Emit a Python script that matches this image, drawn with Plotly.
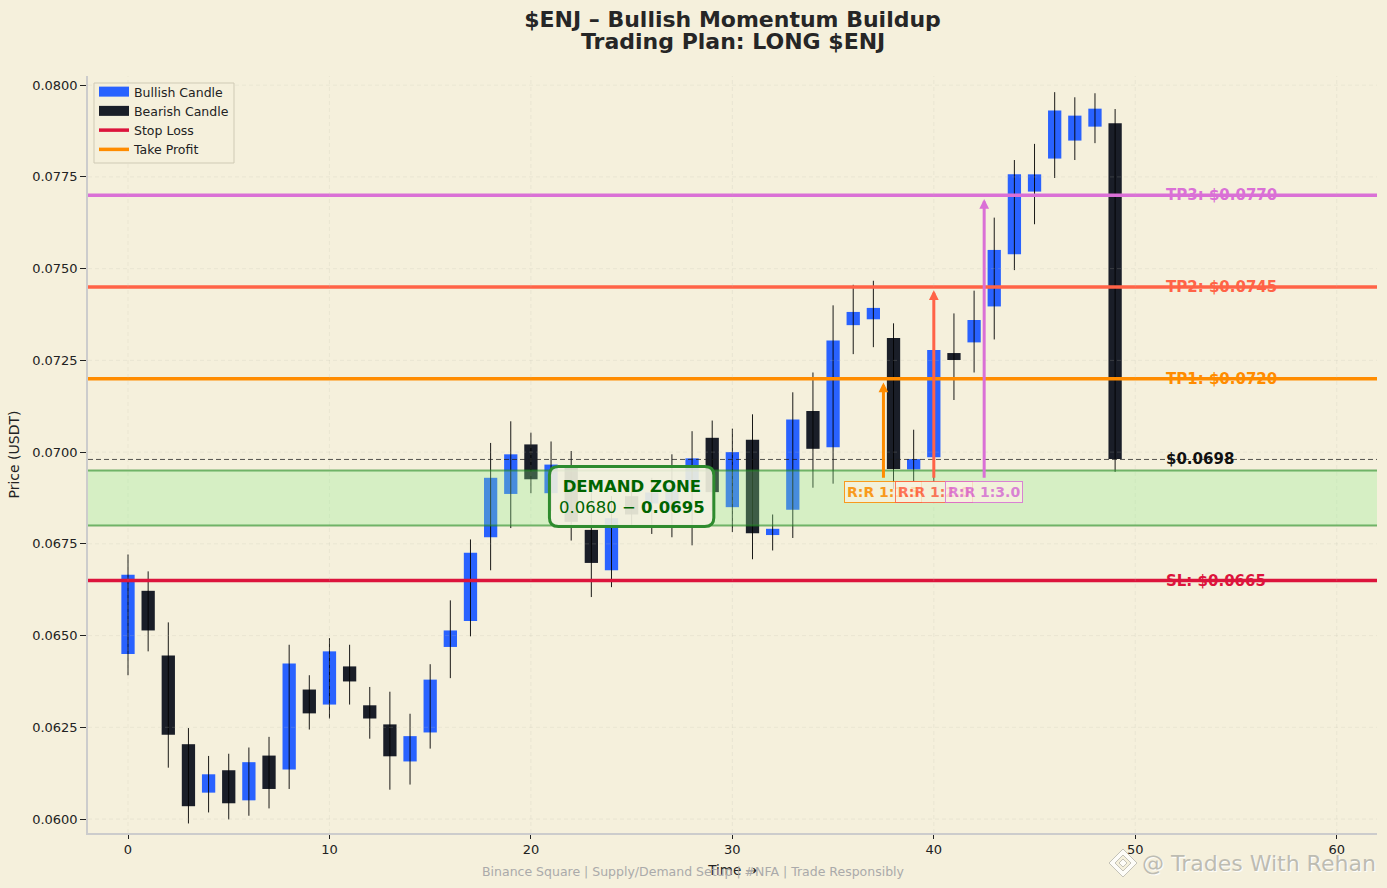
import plotly.graph_objects as go

opens = [.0645,.06622,.06446,.06204,.06072,.06133,.06051,.06173,.06135,.06353,.06312,.06416,.0631,.06258,.06157,.06236,.06469,.0654,.06768,.06886,
         .07021,.06888,.06964,.06788,.06678,.0688,.0686,.0684,.0690,.07039,.0685,.07034,.06774,.06843,.07112,.07013,.07346,.07362,.07311,.06953,
         .06986,.0727,.07299,.07397,.07539,.0771,.078,.07849,.07887,.07896]
closes = [.06666,.06514,.0623,.06035,.06122,.06043,.06155,.06082,.06424,.06288,.06457,.06375,.06274,.06171,.06226,.0638,.06514,.06726,.0693,.06994,
          .06926,.06966,.0681,.06698,.0682,.0683,.0689,.0691,.06983,.06891,.07,.06779,.06791,.07089,.07009,.07304,.07382,.07393,.06954,.06981,
          .07278,.07251,.0736,.07551,.07757,.07757,.07931,.07917,.07936,.06981]
highs = [.06721,.06675,.06536,.06248,.06172,.06178,.06195,.06224,.06475,.06392,.06493,.06475,.0636,.06347,.06287,.06422,.06596,.06762,.07025,.07084,
         .07053,.07029,.07003,.0690,.0688,.0692,.0693,.06994,.07057,.07086,.07064,.07103,.0683,.07163,.07217,.074,.07456,.07467,.07351,.07061,
         .0735,.07378,.0744,.07639,.07796,.0784,.07981,.07967,.07978,.07935]
lows = [.06392,.06457,.0614,.05988,.06018,.05999,.06009,.06029,.06082,.06244,.06274,.06312,.06219,.0608,.06094,.06192,.06384,.06498,.06678,.06793,
        .06888,.0684,.06759,.06605,.06632,.0680,.06777,.06768,.06746,.0684,.06782,.06708,.06732,.06766,.06903,.06914,.07267,.07286,.0690,.0692,
        .0692,.07142,.07217,.07307,.07496,.07621,.07747,.07796,.07842,.06946]

y_ticks = [.06,.0625,.065,.0675,.07,.0725,.075,.0775,.08]
x_ticks = [0,10,20,30,40,50,60]
SL, TP1, TP2, TP3, LAST = .0665, .072, .0745, .077, .0698
ZONE_LOW, ZONE_HIGH = .0680, .0695
X0, X1 = -1.986, 62.0
Y0, Y1 = .05962, .08025
BG = "#F5F0DC"
BLUE, DARK = "#2962FF", "#1A1E28"
CRIMSON, TOMATO, ORANGE, ORCHID = "#DC143C", "#FF6347", "#FF8C00", "#DA70D6"
FONT = "DejaVu Sans"

idx = list(range(len(opens)))
fig = go.Figure()
fig.add_trace(go.Bar(x=idx, y=[abs(c-o) for o, c in zip(opens, closes)], base=[min(o, c) for o, c in zip(opens, closes)],
                     width=0.66, marker=dict(color=[BLUE if c >= o else DARK for o, c in zip(opens, closes)], line_width=0),
                     showlegend=False, hoverinfo="skip"))
wx, wy = [], []
for i, h, l in zip(idx, highs, lows):
    wx += [i, i, None]
    wy += [l, h, None]
fig.add_trace(go.Scatter(x=wx, y=wy, mode="lines", line=dict(color="#000000", width=0.9), showlegend=False, hoverinfo="skip"))

fig.add_trace(go.Scatter(x=[None], y=[None], mode="lines", name="Bullish Candle", line=dict(color=BLUE, width=10)))
fig.add_trace(go.Scatter(x=[None], y=[None], mode="lines", name="Bearish Candle", line=dict(color=DARK, width=10)))
fig.add_trace(go.Scatter(x=[X0, X1], y=[SL, SL], mode="lines", name="Stop Loss", line=dict(color=CRIMSON, width=3.5)))
fig.add_trace(go.Scatter(x=[X0, X1], y=[TP1, TP1], mode="lines", name="Take Profit", line=dict(color=ORANGE, width=3.5)))
fig.add_trace(go.Scatter(x=[X0, X1], y=[TP2, TP2], mode="lines", showlegend=False, line=dict(color=TOMATO, width=3.5)))
fig.add_trace(go.Scatter(x=[X0, X1], y=[TP3, TP3], mode="lines", showlegend=False, line=dict(color=ORCHID, width=3.5)))

GRID = dict(color="rgba(190,190,175,0.2)", width=1, dash="4px,3px")
shapes = []
for t in y_ticks:
    shapes.append(dict(type="line", xref="x", yref="y", x0=X0, x1=X1, y0=t, y1=t, layer="above", line=GRID))
for t in x_ticks:
    shapes.append(dict(type="line", xref="x", yref="y", x0=t, x1=t, y0=Y0, y1=Y1, layer="above", line=GRID))
shapes.append(dict(type="rect", xref="x", yref="y", x0=X0, x1=X1, y0=ZONE_LOW, y1=ZONE_HIGH, layer="above",
                   fillcolor="rgba(144,238,144,0.30)", line_width=0))
for v in (ZONE_LOW, ZONE_HIGH):
    shapes.append(dict(type="line", xref="x", yref="y", x0=X0, x1=X1, y0=v, y1=v, layer="above",
                       line=dict(color="rgba(34,139,34,0.6)", width=2)))
shapes.append(dict(type="line", xref="x", yref="y", x0=X0, x1=X1, y0=LAST, y1=LAST, layer="above",
                   line=dict(color="rgba(30,30,30,0.75)", width=1, dash="5px,3px")))

# rounded Demand Zone box
cx, cy, hw, hh, rx, ry = 25.0, .06879, 4.08, .00082, .45, .00024
box = (f"M{cx-hw+rx},{cy-hh} L{cx+hw-rx},{cy-hh} Q{cx+hw},{cy-hh} {cx+hw},{cy-hh+ry} "
       f"L{cx+hw},{cy+hh-ry} Q{cx+hw},{cy+hh} {cx+hw-rx},{cy+hh} L{cx-hw+rx},{cy+hh} "
       f"Q{cx-hw},{cy+hh} {cx-hw},{cy+hh-ry} L{cx-hw},{cy-hh+ry} Q{cx-hw},{cy-hh} {cx-hw+rx},{cy-hh} Z")
shapes.append(dict(type="path", xref="x", yref="y", path=box, layer="above",
                   fillcolor="rgba(245,240,225,0.88)", line=dict(color="#2E8B2E", width=3)))

def px(x): return (x-88)/1289
def py(y): return (833-y)/757
# legend frame
shapes.append(dict(type="rect", xref="paper", yref="paper", x0=px(94), x1=px(234), y0=py(163), y1=py(83), layer="above",
                   fillcolor="rgba(245,240,220,0.9)", line=dict(color="#cfcab5", width=1)))
# Binance-style mark next to the watermark
def ring(x, y, r, inner):
    return (f"M{px(x-r)},{py(y)} L{px(x)},{py(y-r)} L{px(x+r)},{py(y)} L{px(x)},{py(y+r)} Z "
            f"M{px(x-inner)},{py(y)} L{px(x)},{py(y+inner)} L{px(x+inner)},{py(y)} L{px(x)},{py(y-inner)} Z")
def diamond(x, y, r):
    return f"M{px(x-r)},{py(y)} L{px(x)},{py(y-r)} L{px(x+r)},{py(y)} L{px(x)},{py(y+r)} Z"
for path in (ring(1123, 863, 14, 8), diamond(1123, 863, 4)):
    shapes.append(dict(type="path", xref="paper", yref="paper", path=path, layer="above",
                       fillcolor="rgba(255,255,255,0.8)", line=dict(color="rgba(160,160,150,0.6)", width=1)))

ann = []
for label, v, col in [("TP3: $0.0770", TP3, ORCHID), ("TP2: $0.0745", TP2, TOMATO), ("TP1: $0.0720", TP1, ORANGE),
                      ("SL: $0.0665", SL, CRIMSON), ("$0.0698", LAST, "#111111")]:
    ann.append(dict(x=51.45, y=v, xref="x", yref="y", text=f"<b>{label}</b>", showarrow=False, xanchor="left", yanchor="middle",
                    font=dict(family=FONT, size=15, color=col)))
for x, tip, col in [(37.5, .0719, ORANGE), (40, .07441, TOMATO), (42.5, .0769, ORCHID)]:
    ann.append(dict(x=x, y=tip, ax=x, ay=.06926, xref="x", yref="y", axref="x", ayref="y", text="", showarrow=True,
                    arrowhead=2, arrowsize=0.65, arrowwidth=3, arrowcolor=col))
for x, label, col in [(37.5, "R:R 1:1.5", ORANGE), (40, "R:R 1:2.0", TOMATO), (42.5, "R:R 1:3.0", ORCHID)]:
    ann.append(dict(x=x, y=.06891, xref="x", yref="y", text=f"<b>{label}</b>", showarrow=False, yanchor="middle",
                    font=dict(family=FONT, size=14, color=col), bgcolor="rgba(250,242,225,0.92)",
                    bordercolor=col, borderwidth=1, borderpad=2, opacity=0.85))
ann.append(dict(x=cx, y=cy, xref="x", yref="y", text="<b>DEMAND ZONE</b><br>0.0680 − <b>0.0695</b>", showarrow=False, yanchor="middle",
                font=dict(family=FONT, size=16.5, color="#006400")))
ann.append(dict(x=px(693.5), y=py(871), xref="paper", yref="paper", yanchor="middle", xanchor="center",
                text="Binance Square | Supply/Demand Setup | #NFA | Trade Responsibly",
                showarrow=False, font=dict(family=FONT, size=12.5, color="#aaaaaa")))
ann.append(dict(x=px(1378), y=py(863), xref="paper", yref="paper", xanchor="right", yanchor="middle", text="@ Trades With Rehan",
                showarrow=False, font=dict(family=FONT, size=22, color="#bdbcb2", shadow="1px 1px 1px #ffffff")))
ann.append(dict(x=px(732.5), y=py(41), xref="paper", yref="paper", xanchor="center", yanchor="middle",
                text="<b>Trading Plan: LONG $ENJ</b>", showarrow=False,
                font=dict(family=FONT, size=22, color="#262626")))

fig.update_layout(
    width=1387, height=888, margin=dict(l=88, r=10, t=76, b=55), autosize=False,
    paper_bgcolor=BG, plot_bgcolor=BG, barmode="overlay", shapes=shapes, annotations=ann,
    font=dict(family=FONT, size=13, color="#222222"),
    title=dict(text="<b>$ENJ – Bullish Momentum Buildup</b>", x=732.5/1387, xanchor="center",
               y=1-19/888, yanchor="middle", font=dict(family=FONT, size=22, color="#262626")),
    legend=dict(x=(94-88)/1289, y=1-(77-76)/757, xanchor="left", yanchor="top", bgcolor="rgba(0,0,0,0)",
                borderwidth=0, font=dict(family=FONT, size=12.5), itemwidth=30, tracegroupgap=0),
    xaxis=dict(range=[X0, X1], tickvals=x_ticks, showgrid=False, zeroline=False, showline=True, linecolor="#cccccc", linewidth=1.5,
               ticks="outside", ticklen=4, tickcolor="#222222", tickfont=dict(size=13), title=dict(text="Time →", standoff=9, font=dict(size=13.5))),
    yaxis=dict(range=[Y0, Y1], tickvals=y_ticks, tickformat=".4f", showgrid=False, zeroline=False, showline=True, linecolor="#cccccc", linewidth=1.5,
               ticks="outside", ticklen=6, tickcolor="#222222", tickfont=dict(size=13), title=dict(text="Price (USDT)", standoff=9, font=dict(size=14))),
)
fig.write_html("out.html", post_script="document.body.style.margin='0';", config={"displayModeBar": False})
